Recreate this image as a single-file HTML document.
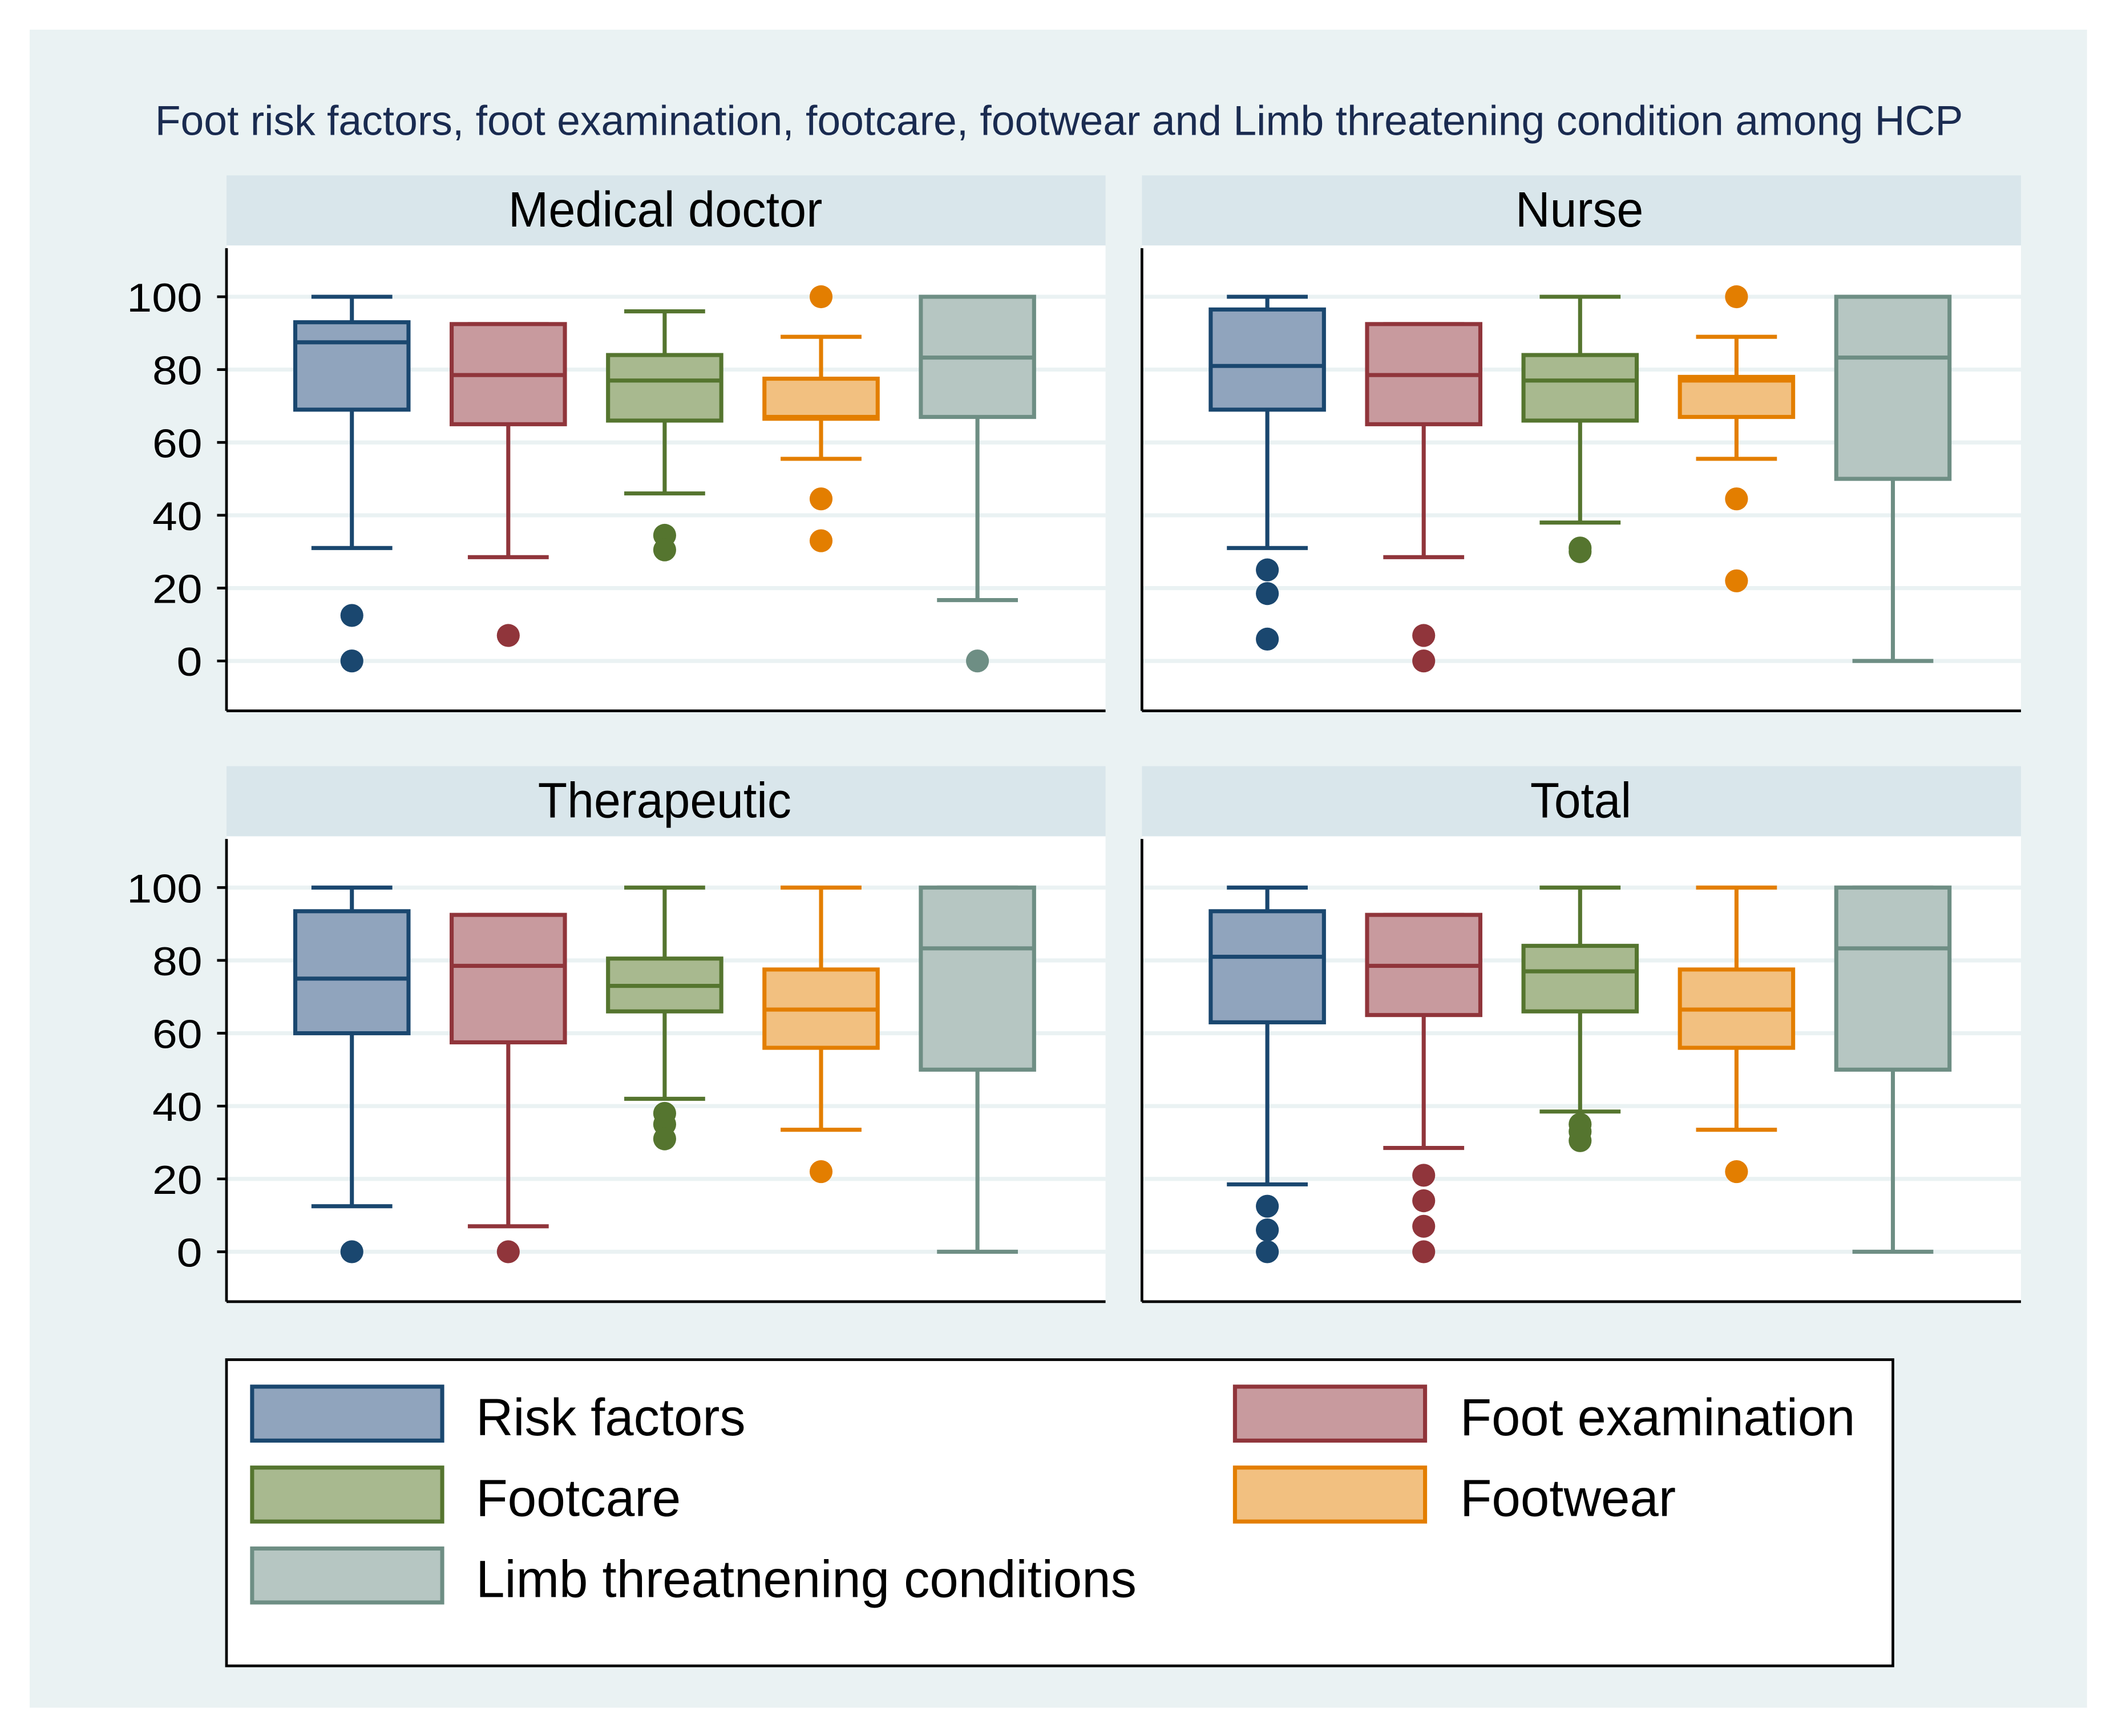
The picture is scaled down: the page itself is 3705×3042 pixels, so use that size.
<!DOCTYPE html>
<html><head><meta charset="utf-8"><style>html,body{margin:0;padding:0;background:#fff}svg{display:block}</style></head>
<body>
<svg id="s" xmlns="http://www.w3.org/2000/svg" width="3705" height="3042" viewBox="0 0 1568 1287" preserveAspectRatio="none" font-family="Liberation Sans, sans-serif">
<rect x="0" y="0" width="1568" height="1287" fill="#fff"/>
<rect x="22" y="22" width="1526" height="1244" fill="#eaf2f3"/>
<text x="115" y="100" font-size="31" fill="#1a2b50" textLength="1341" lengthAdjust="spacingAndGlyphs">Foot risk factors, foot examination, footcare, footwear and Limb threatening condition among HCP</text>
<g id="panels"></g>
<g font-size="37" fill="#000" lengthAdjust="spacingAndGlyphs">
<text x="377" y="168" textLength="233" lengthAdjust="spacingAndGlyphs">Medical doctor</text>
<text x="1124" y="168" textLength="95" lengthAdjust="spacingAndGlyphs">Nurse</text>
<text x="399" y="606" textLength="188" lengthAdjust="spacingAndGlyphs">Therapeutic</text>
<text x="1135" y="606" textLength="75" lengthAdjust="spacingAndGlyphs">Total</text>
</g>
<g font-size="30" fill="#000">
<text x="94" y="231" textLength="56" lengthAdjust="spacingAndGlyphs">100</text><text x="113" y="285" textLength="37" lengthAdjust="spacingAndGlyphs">80</text><text x="113" y="339" textLength="37" lengthAdjust="spacingAndGlyphs">60</text><text x="113" y="393" textLength="37" lengthAdjust="spacingAndGlyphs">40</text><text x="113" y="447" textLength="37" lengthAdjust="spacingAndGlyphs">20</text><text x="131" y="501" textLength="19" lengthAdjust="spacingAndGlyphs">0</text>
<text x="94" y="669" textLength="56" lengthAdjust="spacingAndGlyphs">100</text><text x="113" y="723" textLength="37" lengthAdjust="spacingAndGlyphs">80</text><text x="113" y="777" textLength="37" lengthAdjust="spacingAndGlyphs">60</text><text x="113" y="831" textLength="37" lengthAdjust="spacingAndGlyphs">40</text><text x="113" y="885" textLength="37" lengthAdjust="spacingAndGlyphs">20</text><text x="131" y="939" textLength="19" lengthAdjust="spacingAndGlyphs">0</text>
</g>
<rect x="168" y="1008" width="1236" height="227" fill="#fff" stroke="#000" stroke-width="2"/>
<g stroke-width="3">
<rect x="187" y="1028" width="141" height="40" fill="#90a4bd" stroke="#1a476f"/>
<rect x="916" y="1028" width="141" height="40" fill="#c89a9e" stroke="#90353b"/>
<rect x="187" y="1088" width="141" height="40" fill="#a8b98f" stroke="#55752f"/>
<rect x="916" y="1088" width="141" height="40" fill="#f2c080" stroke="#e37e00"/>
<rect x="187" y="1148" width="141" height="40" fill="#b6c6c2" stroke="#6e8e84"/>
</g>
<g font-size="39" fill="#000">
<text x="353" y="1064" textLength="200" lengthAdjust="spacingAndGlyphs">Risk factors</text>
<text x="1083" y="1064" textLength="293" lengthAdjust="spacingAndGlyphs">Foot examination</text>
<text x="353" y="1124" textLength="152" lengthAdjust="spacingAndGlyphs">Footcare</text>
<text x="1083" y="1124" textLength="160" lengthAdjust="spacingAndGlyphs">Footwear</text>
<text x="353" y="1184" textLength="490" lengthAdjust="spacingAndGlyphs">Limb threatnening conditions</text>
</g>
</svg>
<script>
var NS="http://www.w3.org/2000/svg",g=document.getElementById("panels");
function el(t,a){var e=document.createElementNS(NS,t);for(var k in a)e.setAttribute(k,a[k]);g.appendChild(e);return e;}
var cols=[["#1a476f","#90a4bd"],["#90353b","#c89a9e"],["#55752f","#a8b98f"],["#e37e00","#f2c080"],["#6e8e84","#b6c6c2"]];
var P=[
{x:168,y:130,d:[[31,100,69,93,87.5,[12.5,0]],[28.5,92.5,65,92.5,78.5,[7]],[46,96,66,84,77,[34.5,30.5]],[55.5,89,66.5,77.5,67,[100,44.5,33]],[16.7,100,67,100,83.3,[0]]]},
{x:847,y:130,d:[[31,100,69,96.5,81,[25,18.5,6]],[28.5,92.5,65,92.5,78.5,[7,0]],[38,100,66,84,77,[31,30]],[55.5,89,67,78,77,[100,44.5,22]],[0,100,50,100,83.3,[]]]},
{x:168,y:568,d:[[12.5,100,60,93.5,75,[0]],[7,92.5,57.5,92.5,78.5,[0]],[42,100,66,80.5,73,[38,35,31]],[33.5,100,56,77.5,66.5,[22]],[0,100,50,100,83.3,[]]]},
{x:847,y:568,d:[[18.5,100,63,93.5,81,[12.5,6,0]],[28.5,92.5,65,92.5,78.5,[21,14,7,0]],[38.5,100,66,84,77,[35,33,30.5]],[33.5,100,56,77.5,66.5,[22]],[0,100,50,100,83.3,[]]]}];
P.forEach(function(p){
 el("rect",{x:p.x,y:p.y,width:652,height:52,fill:"#d9e6eb"});
 el("rect",{x:p.x,y:p.y+52,width:652,height:345,fill:"#fff"});
 var top=p.y+90;function Y(v){return top+(100-v)*2.7;}
 for(var v=0;v<=100;v+=20)el("line",{x1:p.x,x2:p.x+652,y1:Y(v),y2:Y(v),stroke:"#eaf2f3","stroke-width":3});
 el("line",{x1:p.x,x2:p.x,y1:p.y+54,y2:p.y+397,stroke:"#000","stroke-width":2});
 el("line",{x1:p.x,x2:p.x+652,y1:p.y+397,y2:p.y+397,stroke:"#000","stroke-width":2});
 if(p.x==168)for(var v=0;v<=100;v+=20)el("line",{x1:p.x-7,x2:p.x,y1:Y(v),y2:Y(v),stroke:"#000","stroke-width":2});
 p.d.forEach(function(b,i){
  var c=p.x+93+i*116,s=cols[i][0],f=cols[i][1];
  el("line",{x1:c,x2:c,y1:Y(b[1]),y2:Y(b[3]),stroke:s,"stroke-width":3});
  el("line",{x1:c,x2:c,y1:Y(b[2]),y2:Y(b[0]),stroke:s,"stroke-width":3});
  el("line",{x1:c-30,x2:c+30,y1:Y(b[1]),y2:Y(b[1]),stroke:s,"stroke-width":3});
  el("line",{x1:c-30,x2:c+30,y1:Y(b[0]),y2:Y(b[0]),stroke:s,"stroke-width":3});
  el("rect",{x:c-42,y:Y(b[3]),width:84,height:Y(b[2])-Y(b[3]),fill:f,stroke:s,"stroke-width":3});
  el("line",{x1:c-42,x2:c+42,y1:Y(b[4]),y2:Y(b[4]),stroke:s,"stroke-width":3});
  b[5].forEach(function(o){el("circle",{cx:c,cy:Y(o),r:8.5,fill:s});});
 });
});
</script>
</body></html>
